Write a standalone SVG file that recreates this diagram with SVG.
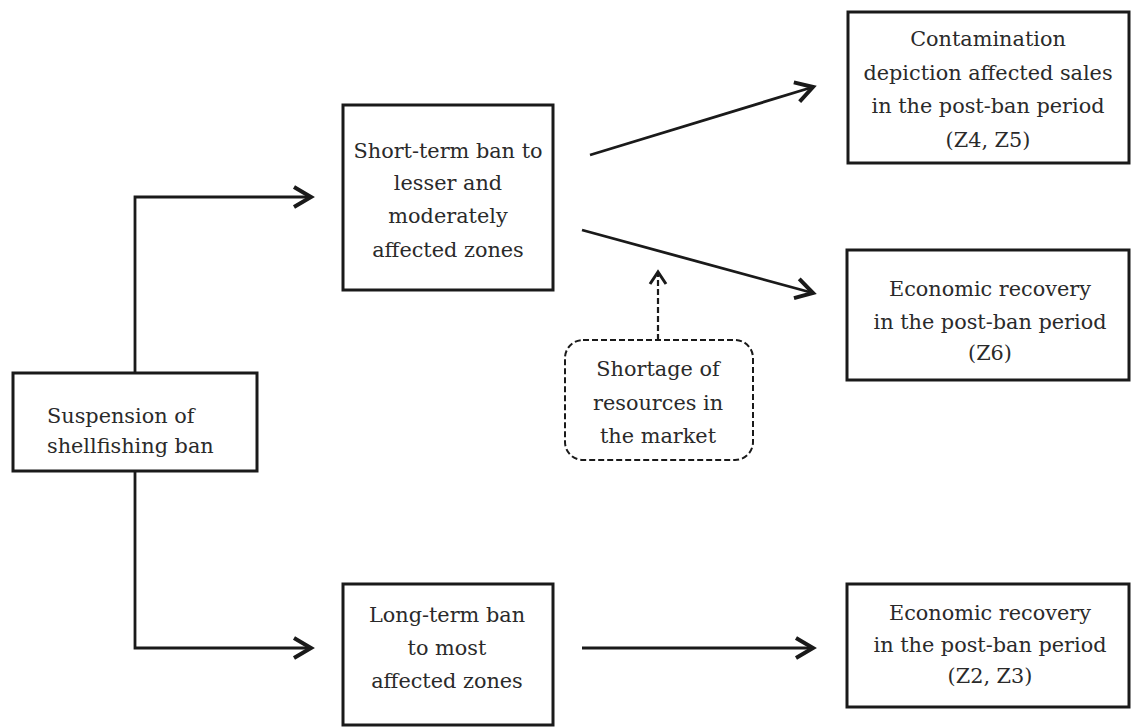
<svg xmlns="http://www.w3.org/2000/svg" width="1132" height="728" viewBox="0 0 1132 728">
  <style>
    .box { fill: #ffffff; stroke: #1a1a1a; stroke-width: 3; }
    .dbox { fill: #ffffff; stroke: #1a1a1a; stroke-width: 2; stroke-dasharray: 6 3; }
    .lbl { font-family: 'DejaVu Serif', serif; font-size: 20.8px; fill: #2a2a2a; text-anchor: middle; }
    .left { text-anchor: start; }
    .conn { fill: none; stroke: #1a1a1a; stroke-width: 2.8; }
    .dash { stroke-dasharray: 6 3; stroke-width: 2.2; }
  </style>
  <defs>
    <marker id="chev" markerUnits="userSpaceOnUse" markerWidth="30" markerHeight="30" refX="20" refY="12" orient="auto" overflow="visible">
      <path d="M3,2 L20,12 L3,22" fill="none" stroke="#1a1a1a" stroke-width="4" stroke-linejoin="miter"/>
    </marker>
    <marker id="chevs" markerUnits="userSpaceOnUse" markerWidth="30" markerHeight="30" refX="14" refY="9" orient="auto" overflow="visible">
      <path d="M2,1 L14,9 L2,17" fill="none" stroke="#1a1a1a" stroke-width="3" stroke-linejoin="miter"/>
    </marker>
  </defs>
  <rect width="1132" height="728" fill="#ffffff"/>

  <g id="connectors">
    <path class="conn" d="M135,373 V197 H311" marker-end="url(#chev)"/>
    <path class="conn" d="M135,471 V648 H311" marker-end="url(#chev)"/>
    <path class="conn" d="M590,155 L813,87" marker-end="url(#chev)"/>
    <path class="conn" d="M582,230 L813,293" marker-end="url(#chev)"/>
    <path class="conn" d="M582,648 H813" marker-end="url(#chev)"/>
    <path class="conn dash" d="M658,340 V272" marker-end="url(#chevs)"/>
  </g>

  <g id="suspension">
    <rect class="box" x="13" y="373" width="244" height="98"/>
    <text class="lbl left" x="47" y="423">Suspension of</text>
    <text class="lbl left" x="47" y="453">shellfishing ban</text>
  </g>

  <g id="short-term">
    <rect class="box" x="343" y="105" width="210" height="185"/>
    <text class="lbl" x="448" y="158">Short-term ban to</text>
    <text class="lbl" x="448" y="190">lesser and</text>
    <text class="lbl" x="448" y="223">moderately</text>
    <text class="lbl" x="448" y="257">affected zones</text>
  </g>

  <g id="long-term">
    <rect class="box" x="343" y="584" width="210" height="141"/>
    <text class="lbl" x="447" y="622">Long-term ban</text>
    <text class="lbl" x="447" y="655">to most</text>
    <text class="lbl" x="447" y="688">affected zones</text>
  </g>

  <g id="shortage">
    <rect class="dbox" x="565" y="340" width="188" height="120" rx="18" ry="18"/>
    <text class="lbl" x="658" y="376">Shortage of</text>
    <text class="lbl" x="658" y="410">resources in</text>
    <text class="lbl" x="658" y="443">the market</text>
  </g>

  <g id="contamination">
    <rect class="box" x="848" y="12" width="281" height="151"/>
    <text class="lbl" x="988" y="46">Contamination</text>
    <text class="lbl" x="988" y="80">depiction affected sales</text>
    <text class="lbl" x="988" y="113">in the post-ban period</text>
    <text class="lbl" x="988" y="147">(Z4, Z5)</text>
  </g>

  <g id="recovery-z6">
    <rect class="box" x="847" y="250" width="282" height="130"/>
    <text class="lbl" x="990" y="296">Economic recovery</text>
    <text class="lbl" x="990" y="329">in the post-ban period</text>
    <text class="lbl" x="990" y="360">(Z6)</text>
  </g>

  <g id="recovery-z2-z3">
    <rect class="box" x="847" y="584" width="282" height="123"/>
    <text class="lbl" x="990" y="620">Economic recovery</text>
    <text class="lbl" x="990" y="652">in the post-ban period</text>
    <text class="lbl" x="990" y="683">(Z2, Z3)</text>
  </g>
</svg>
